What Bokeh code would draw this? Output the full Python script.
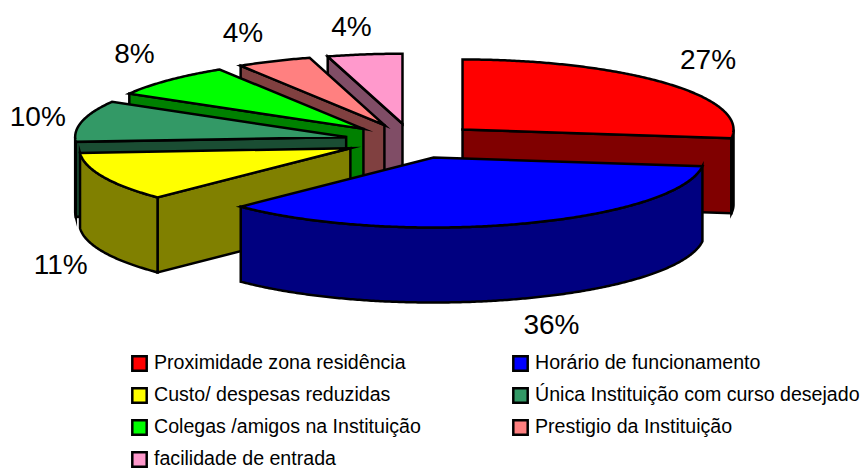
import math
from bokeh.embed import file_html
from bokeh.models import Legend, LegendItem, Range1d, ColumnDataSource
from bokeh.plotting import figure
from bokeh.resources import INLINE
from bokeh.core.properties import value

# ---- data ----
CATEGORIES = ["Proximidade zona residência", "Horário de funcionamento",
              "Custo/ despesas reduzidas", "Única Instituição com curso desejado",
              "Colegas /amigos na Instituição", "Prestigio da Instituição",
              "facilidade de entrada"]
VALUES = [27.0, 35.6, 11.3, 9.5, 7.7, 4.45, 4.45]
TOP_COLORS = ["#ff0000", "#0000ff", "#ffff00", "#339966", "#00ff00", "#ff8080", "#ff99cc"]
WALL_COLORS = ["#800000", "#000080", "#808000", "#1a4d33", "#008000", "#804040", "#804d66"]
DRAW_ORDER = [6, 5, 4, 3, 2, 0, 1]
LABEL_NUDGE_X = [-2, 12, 11, 13, 8, -7, -5]
LABEL_NUDGE_Y = [-4, -3, 0, 2, -6, -1, 2]

# ---- layout of the pie ----
W, H = 861, 469
CX, CY = 411.4, 140.5
RX, RY = 271.0, 70.0
DEPTH = 75.0
EXPLODE = 67.5
TILT = RY / RX
LABEL_RX, LABEL_RY = 330.0, 100.0

p = figure(width=W, height=H, output_backend="svg", toolbar_location=None,
           x_range=Range1d(0, W), y_range=Range1d(H, 0),
           x_axis_type=None, y_axis_type=None, min_border=0,
           outline_line_color=None, background_fill_color="white",
           border_fill_color="white")
p.grid.visible = False


def arc(ax, ay, t0, t1):
    n = max(2, int(abs(t1 - t0) * 2))
    ts = [t0 + (t1 - t0) * i / n for i in range(n + 1)]
    return ([ax + RX * math.sin(math.radians(t)) for t in ts],
            [ay - RY * math.cos(math.radians(t)) for t in ts])


total = sum(VALUES)
starts, acc = [], 0.0
for v in VALUES:
    starts.append(acc)
    acc += v * 360.0 / total

slices = {}
lab_x, lab_y, lab_t = [], [], []
for i, v in enumerate(VALUES):
    t0 = starts[i]
    t1 = t0 + v * 360.0 / total
    mid = math.radians((t0 + t1) / 2)
    ax = CX + EXPLODE * math.sin(mid)
    ay = CY - EXPLODE * TILT * math.cos(mid)
    slices[i] = (t0, t1, ax, ay)
    ly = ay - LABEL_RY * math.cos(mid) + (DEPTH if math.cos(mid) < 0 else 0)
    lab_x.append(ax + LABEL_RX * math.sin(mid) + LABEL_NUDGE_X[i])
    lab_y.append(ly + LABEL_NUDGE_Y[i])
    lab_t.append(f"{round(v)}%")

style = dict(line_color="black", line_width=2.5, line_join="miter")
tops = {}
for i in DRAW_ORDER:
    t0, t1, ax, ay = slices[i]
    wall = WALL_COLORS[i]
    # radial walls that face the viewer
    for t, vis in ((t0, math.sin(math.radians(t0)) < -1e-6), (t1, math.sin(math.radians(t1)) > 1e-6)):
        if vis:
            rx_ = ax + RX * math.sin(math.radians(t))
            ry_ = ay - RY * math.cos(math.radians(t))
            p.patch([ax, rx_, rx_, ax], [ay, ry_, ry_ + DEPTH, ay + DEPTH], fill_color=wall, **style)
    # outer wall on the front half
    a0, a1 = max(t0, 90.0), min(t1, 270.0)
    if a1 > a0:
        xs, ys = arc(ax, ay, a0, a1)
        p.patch(xs + xs[::-1], ys + [y + DEPTH for y in ys[::-1]], fill_color=wall, **style)
    xs, ys = arc(ax, ay, t0, t1)
    tops[i] = p.patch([ax] + xs, [ay] + ys, fill_color=TOP_COLORS[i], **style)

p.text(x="x", y="y", text="t", source=ColumnDataSource(dict(x=lab_x, y=lab_y, t=lab_t)),
       text_align="center", text_baseline="middle", text_color="black",
       text_font=value("Liberation Sans"), text_font_size="28px")


def make_legend(idx, loc):
    return Legend(items=[LegendItem(label=value(CATEGORIES[i]), renderers=[tops[i]]) for i in idx],
                  location=loc, orientation="vertical", background_fill_alpha=0,
                  border_line_color=None, margin=0, padding=0, spacing=9,
                  glyph_width=18, glyph_height=18, label_standoff=6, label_height=20,
                  label_text_font="Liberation Sans", label_text_font_size="19.6px",
                  label_text_color="black", label_text_baseline="middle")


p.add_layout(make_legend([0, 2, 4, 6], (130, -1)))
p.add_layout(make_legend([1, 3, 5], (511, 31)))

open("out.html", "w").write(file_html(p, INLINE))
